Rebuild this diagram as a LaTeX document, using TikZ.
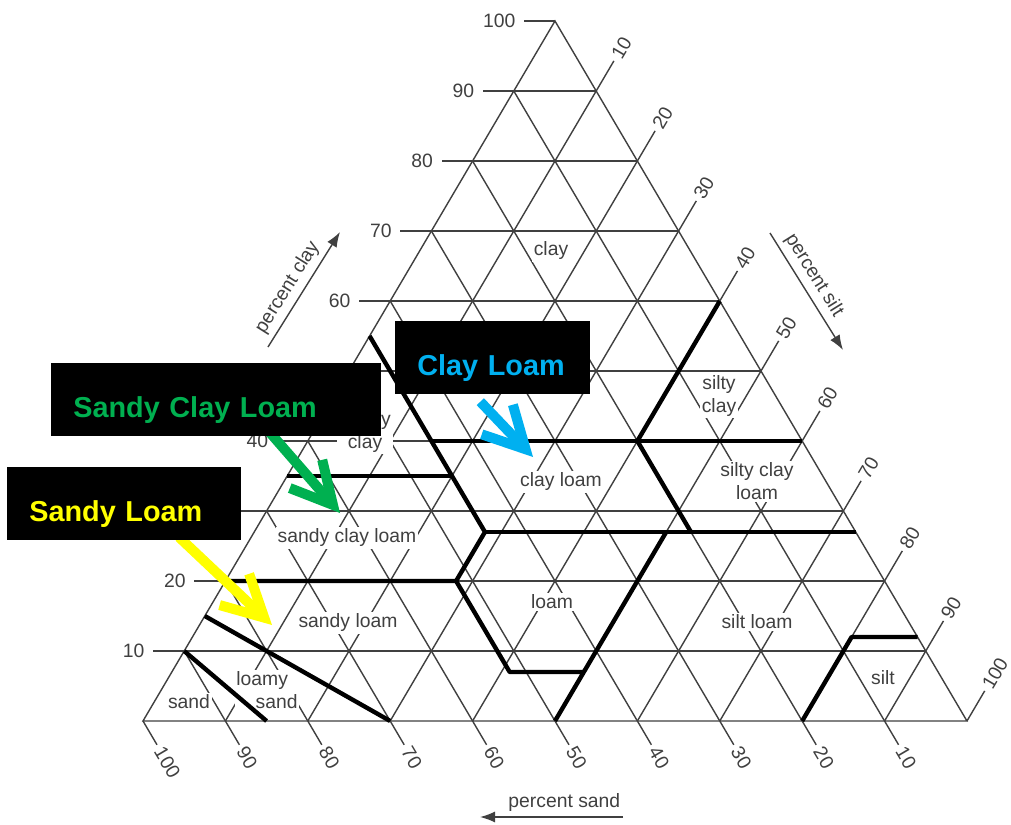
\documentclass[tikz,border=0pt]{standalone}
\usepackage{fontspec}
\setmainfont{Liberation Sans}
\usepackage{tikz}
\usetikzlibrary{positioning,arrows.meta,calc}
\definecolor{chartgray}{HTML}{404040}
\definecolor{loamgreen}{HTML}{00B050}
\definecolor{loamblue}{HTML}{00B0F0}
\definecolor{loamyellow}{HTML}{FFFF00}
\pgfdeclarelayer{front}
\pgfsetlayers{main,front}

\tikzset{
  ternary/.style={x={(0.1648cm,0cm)}, y={(0.0824cm,0.14cm)}},
  gridline/.style={chartgray, line width=0.8pt},
  classline/.style={black, line width=2.5pt, line join=round},
  ticklabel/.style={text=chartgray, font=\fontsize{11}{13}\selectfont, inner sep=2pt},
  classlabel/.style={ticklabel, fill=white, inner sep=1pt, align=center},
  axisarrow/.style={chartgray, line width=0.8pt, -{Latex[length=0.3cm, width=0.22cm]}},
  tagbox/.style={fill=black, anchor=north west, inner xsep=0.44cm, inner ysep=0pt,
    text height=1.08cm, text depth=0.38cm, align=left,
    font=\fontsize{16.4}{20}\selectfont\bfseries},
  tagarrow/.style={line width=0.2cm, -{Straight Barb[length=0.82cm, width=0.86cm]}},
}

\begin{document}
\begin{tikzpicture}
  \useasboundingbox (-2.86,-2.08) rectangle (17.36,14.42);
  \fill[white] (-2.86,-2.08) rectangle (17.36,14.42);

  % grid in (silt, clay) coordinates
  \begin{scope}[ternary]
    \foreach \v in {10,20,...,90} {
      \draw[gridline] (0,\v) -- ({100-\v},\v);
      \draw[gridline] (\v,0) -- (\v,{100-\v});
      \draw[gridline] (\v,0) -- (0,\v);
    }
    \draw[gridline] (0,0) -- (100,0) -- (0,100) -- cycle;
    \foreach \v in {10,20,...,100} {
      \draw[gridline] (0,\v) -- ++(-0.62cm,0)
        node[ticklabel, anchor=east, inner xsep=0.16cm] (clay\v) {\v};
      \draw[gridline] (\v,{100-\v}) -- ++(0,4.3)
        node[ticklabel, anchor=west, rotate=59.5] (silt\v) {\v};
      \draw[gridline] ({100-\v},0) -- ++(3.4,-3.4)
        node[ticklabel, anchor=west, rotate=-59.5] (sand\v) {\v};
    }
  \end{scope}

  \node[classlabel] (lclay) at (8.16,9.4) {clay};
  \node[classlabel] (lsiltyclay) at (11.52,6.5) {silty\\clay};
  \node[classlabel] (lsandyclay) at (4.44,5.78) {sandy\\clay};
  \node[classlabel] (lclayloam) at (8.36,4.78) {clay loam};
  \node[classlabel] (lsiltyclayloam) at (12.28,4.79) {silty clay\\loam};
  \node[classlabel] (lsandyclayloam) at (4.08,3.66) {sandy clay loam};
  \node[classlabel] (lloam) at (8.18,2.38) {loam};
  \node[classlabel] (lsandyloam) at (4.1,1.96) {sandy loam};
  \node[classlabel] (lsiltloam) at (12.28,1.98) {silt loam};
  \node[classlabel, align=left] (lloamysand) at (2.48,0.62) {loamy\\\hspace*{1em}sand};
  \node[classlabel] (lsand) at (0.92,0.38) {sand};
  \node[classlabel] (lsilt) at (14.8,0.86) {silt};

  % class boundaries
  \begin{scope}[ternary]
    \draw[classline] (0,10) -- (15,0);
    \draw[classline] (0,15) -- (30,0);
    \draw[classline] (0,20) -- (28,20) -- (41,7) -- (50,7) -- (50,0);
    \draw[classline] (0,55) -- (28,27) -- (28,20);
    \draw[classline] (28,27) -- (73,27);
    \draw[classline] (50,7) -- (50,27);
    \draw[classline] (0,35) -- (20,35);
    \draw[classline] (15,40) -- (60,40);
    \draw[classline] (40,60) -- (40,40) -- (53,27);
    \draw[classline] (80,0) -- (80,12) -- (88,12);
  \end{scope}

  \coordinate (pclayA) at (2.5,7.48);
  \coordinate (pclayB) at (3.94,9.78);
  \draw[axisarrow] (pclayA) -- node[ticklabel, sloped, above, pos=0.45, inner sep=3pt] (pclay) {percent clay} (pclayB);
  \coordinate (psiltA) at (12.54,9.76);
  \coordinate (psiltB) at (14.0,7.42);
  \draw[axisarrow] (psiltA) -- node[ticklabel, sloped, above, pos=0.43, inner sep=3pt] (psilt) {percent silt} (psiltB);
  \coordinate (psandA) at (9.6,-1.92);
  \coordinate (psandB) at (6.74,-1.92);
  \draw[axisarrow] (psandA) -- node[ticklabel, above, pos=0.41, inner sep=3pt] (psand) {percent sand} (psandB);

  \begin{pgfonlayer}{front}
    \node[tagbox, text width=5.72cm, text=loamgreen] (scl) at (-1.84,7.16) {Sandy Clay Loam};
    \node[tagbox, text width=3.80cm, text=loamyellow] (sl) at (-2.72,5.08) {Sandy Loam};
    \node[tagbox, text width=3.02cm, text=loamblue] (cl) at (5.04,8.0) {Clay Loam};
  \end{pgfonlayer}

  \coordinate (sclTip) at (3.94,4.16);
  \coordinate (slTip) at (2.58,1.92);
  \coordinate (clTip) at (7.8,5.28);
  \draw[tagarrow, loamgreen] ($(scl.south west)!0.673!(scl.south east)+(-0.07,0.08)$) -- (sclTip);
  \draw[tagarrow, loamyellow] ($(sl.south west)!0.748!(sl.south east)+(-0.07,0.07)$) -- (slTip);
  \draw[tagarrow, loamblue] ($(cl.south west)!0.436!(cl.south east)+(0,-0.14)$) -- (clTip);
\end{tikzpicture}
\end{document}
